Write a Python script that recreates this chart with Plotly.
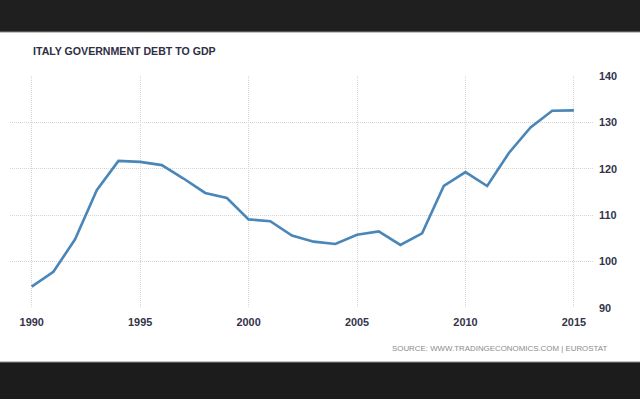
import plotly.graph_objects as go

years = list(range(1990, 2016))
debt = [94.6, 97.8, 104.8, 115.4, 121.7, 121.5, 120.8, 117.9, 114.8, 113.7,
        109.1, 108.7, 105.6, 104.3, 103.8, 105.8, 106.5, 103.6, 106.1, 116.3,
        119.3, 116.3, 123.4, 128.9, 132.5, 132.6]
x_ticks = [1990, 1995, 2000, 2005, 2010, 2015]
y_ticks = [90, 100, 110, 120, 130, 140]
title_text = "ITALY GOVERNMENT DEBT TO GDP"
source_text = "SOURCE: WWW.TRADINGECONOMICS.COM | EUROSTAT"

W, H = 640, 399
L, R, T, B = 10, 47, 76, 91
pw, ph = W - L - R, H - T - B

def px(xp):
    return (xp - L) / pw

def py(yp):
    return (H - B - yp) / ph

fig = go.Figure()
fig.add_trace(go.Scatter(x=years, y=debt, mode="lines",
                         line=dict(color="#4a86b8", width=2.6),
                         hoverinfo="skip"))

font_main = "Liberation Sans, Arial, sans-serif"
fig.update_layout(
    width=W, height=H,
    margin=dict(l=L, r=R, t=T, b=B, pad=0),
    paper_bgcolor="white", plot_bgcolor="white",
    showlegend=False,
    xaxis=dict(range=[1989.0, 2015.88], tickvals=x_ticks, ticktext=[str(v) for v in x_ticks],
               showgrid=True, gridcolor="#d6d6d6", griddash="1px,1px", gridwidth=1,
               zeroline=False, showline=False, ticks="",
               tickfont=dict(family=font_main, size=10.9, color="#33334a", weight="bold"),
               ticklabelstandoff=6),
    yaxis=dict(range=[90, 140], tickvals=y_ticks, side="right",
               showgrid=True, gridcolor="#d6d6d6", griddash="1px,1px", gridwidth=1,
               zeroline=False, showline=False, ticks="",
               tickfont=dict(family=font_main, size=10.9, color="#33334a", weight="bold"),
               ticklabelstandoff=5),
    shapes=[
        dict(type="rect", xref="paper", yref="paper", x0=px(0), x1=px(W), y0=py(0), y1=py(32),
             fillcolor="#1f1f1f", line=dict(width=0), layer="above"),
        dict(type="line", xref="paper", yref="paper", x0=px(0), x1=px(W), y0=py(32), y1=py(32),
             line=dict(color="#8a8a8a", width=1), layer="above"),
        dict(type="rect", xref="paper", yref="paper", x0=px(0), x1=px(W), y0=py(362), y1=py(H),
             fillcolor="#1c1c1c", line=dict(width=0), layer="above"),
        dict(type="line", xref="paper", yref="paper", x0=px(0), x1=px(W), y0=py(362), y1=py(362),
             line=dict(color="#8a8a8a", width=1), layer="above"),
    ],
    annotations=[
        dict(text=title_text, xref="paper", yref="paper", x=px(31), y=py(51),
             xanchor="left", yanchor="middle", showarrow=False,
             font=dict(family=font_main, size=10.6, color="#2e2e44", weight="bold")),
        dict(text=source_text, xref="paper", yref="paper", x=px(609), y=py(348),
             xanchor="right", yanchor="middle", showarrow=False,
             font=dict(family=font_main, size=7.9, color="#8c8c8c")),
    ],
)

fig.write_html("out.html", config={"displayModeBar": False},
               post_script="document.body.style.margin='0';document.body.style.padding='0';")
